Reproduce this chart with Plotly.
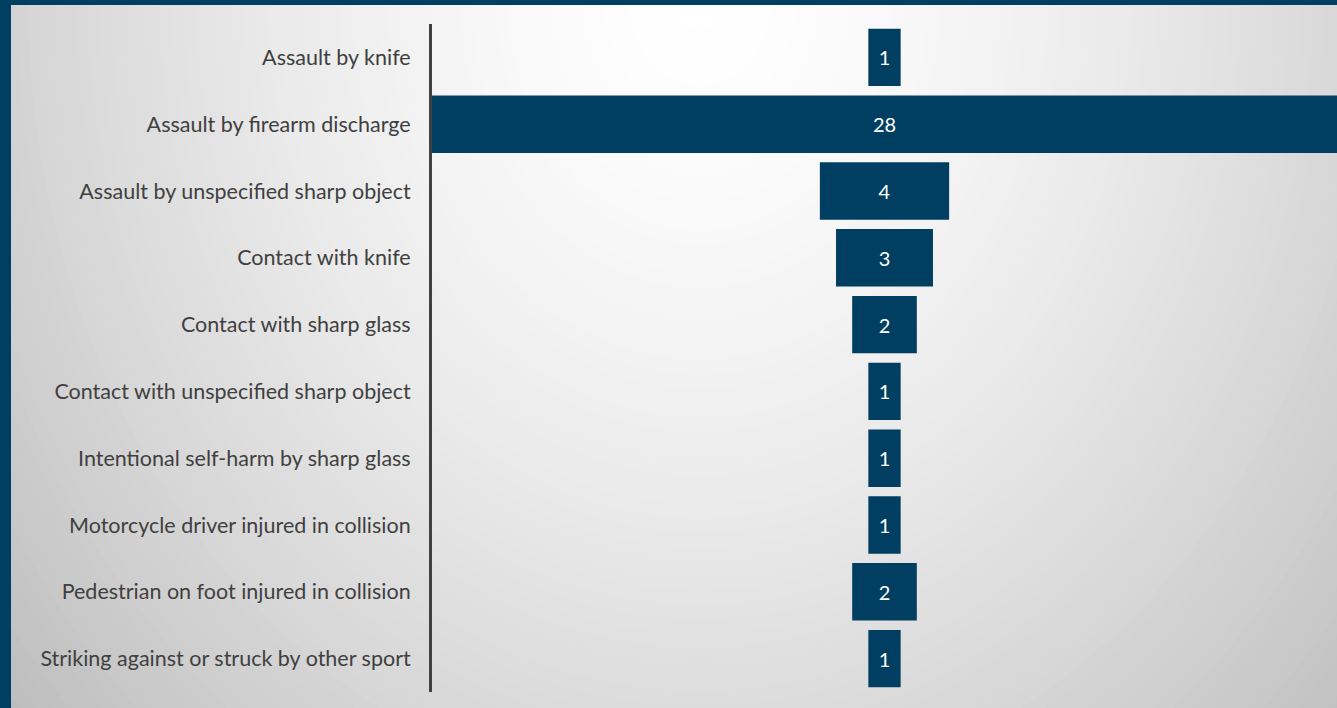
import plotly.graph_objects as go

# Injury mechanisms and case counts
categories = [
    "Assault by knife",
    "Assault by firearm discharge",
    "Assault by unspecified sharp object",
    "Contact with knife",
    "Contact with sharp glass",
    "Contact with unspecified sharp object",
    "Intentional self-harm by sharp glass",
    "Motorcycle driver injured in collision",
    "Pedestrian on foot injured in collision",
    "Striking against or struck by other sport",
]
counts = [1, 28, 4, 3, 2, 1, 1, 1, 2, 1]

W, H = 1337, 708
ML, MR, MT, MB = 432, 0, 24, 16
NAVY = "#003f62"
TEXT = "#404040"
FONT = "Lato"

plot_w = W - ML - MR
plot_h = H - MT - MB


def px_x(px):
    return (px - ML) / plot_w


def px_y(py):
    return 1 - (py - MT) / plot_h


# Soft radial backdrop: nested ellipses from dark rim to white centre
shapes = []
cx, cy = 700, 0
sx, sy = 1.0, 1.2
r_max = 1200
step = 12
r = r_max
while r > 0:
    t = min(r / 860.0, 1.3)
    g = int(round(max(188, 255 - 60 * t ** 1.5)))
    col = f"rgb({g},{g},{g})"
    shapes.append(dict(
        type="circle", xref="paper", yref="paper", layer="below",
        x0=px_x(cx - r * sx), x1=px_x(cx + r * sx),
        y0=px_y(cy + r * sy), y1=px_y(cy - r * sy),
        fillcolor=col, line=dict(width=0),
    ))
    r -= step

# Frame bands along the top and left edges
shapes.append(dict(type="rect", xref="paper", yref="paper", layer="below",
                   x0=px_x(-5), x1=px_x(W + 5), y0=px_y(5), y1=px_y(-5),
                   fillcolor=NAVY, line=dict(width=0)))
shapes.append(dict(type="rect", xref="paper", yref="paper", layer="below",
                   x0=px_x(-5), x1=px_x(11), y0=px_y(H + 5), y1=px_y(-5),
                   fillcolor=NAVY, line=dict(width=0)))

fig = go.Figure(go.Funnel(
    y=categories,
    x=counts,
    textinfo="value",
    textposition="inside",
    insidetextanchor="middle",
    textfont=dict(family=FONT, size=20, color="white"),
    marker=dict(color=NAVY, line=dict(width=0)),
    connector=dict(visible=False),
    hoverinfo="y+x",
))

max_v = max(counts)
fig.update_layout(
    width=W, height=H,
    margin=dict(l=ML, r=MR, t=MT, b=MB, pad=0),
    paper_bgcolor=NAVY,
    plot_bgcolor="rgba(0,0,0,0)",
    funnelgap=0.14,
    showlegend=False,
    shapes=shapes,
    font=dict(family=FONT, color=TEXT),
    xaxis=dict(visible=False, range=[-max_v / 2, max_v / 2], fixedrange=True),
    yaxis=dict(
        showline=True, linecolor=TEXT, linewidth=3,
        showgrid=False, zeroline=False, ticks="",
        ticklabelstandoff=14,
        tickfont=dict(family=FONT, size=21.5, color=TEXT),
        fixedrange=True,
    ),
)

fig.write_html("out.html")
